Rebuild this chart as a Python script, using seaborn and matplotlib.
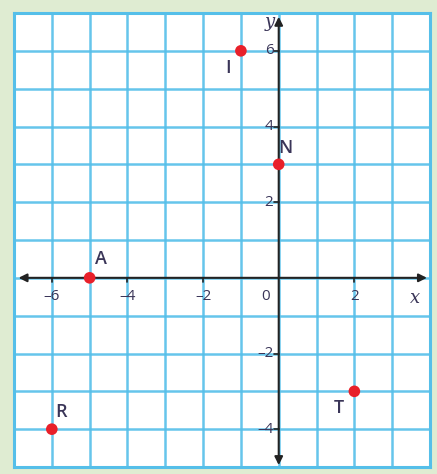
import numpy as np
import pandas as pd
import seaborn as sns
import matplotlib.pyplot as plt

# points on the grid
names = ["I", "N", "A", "R", "T"]
xs = [-1, 0, -5, -6, 2]
ys = [6, 3, 0, -4, -3]
# label offsets (data units) relative to each point
label_dx = [-0.35, 0.18, 0.3, 0.25, -0.4]
label_dy = [-0.45, 0.42, 0.5, 0.45, -0.45]

x_ticks = [-6, -4, -2, 2]
y_ticks = [6, 4, 2, -2, -4]
x_range = (-7, 4)
y_range = (-5, 7)

df = pd.DataFrame({"x": xs, "y": ys, "name": names})

sns.set_style("white")
plt.rcParams["font.family"] = ["Open Sans", "DejaVu Sans"]

bg = "#dfecd2"
grid_c = "#55bfe9"
text_c = "#3a3558"

fig = plt.figure(figsize=(4.37, 4.74), dpi=100, facecolor=bg)
ax = fig.add_axes([14 / 437, 7 / 474, 416 / 437, 454 / 474])
ax.set_facecolor("white")

ax.set_xlim(*x_range)
ax.set_ylim(*y_range)
ax.set_xticks(np.arange(x_range[0], x_range[1] + 1))
ax.set_yticks(np.arange(y_range[0], y_range[1] + 1))
ax.tick_params(length=0, labelbottom=False, labelleft=False)
ax.grid(True, color=grid_c, lw=1.8, alpha=0.9)
for s in ax.spines.values():
    s.set_color(grid_c)
    s.set_linewidth(2.2)

# axes with arrows
arrow = dict(arrowstyle="<|-|>", color="#222222", lw=1.5, mutation_scale=12, shrinkA=0, shrinkB=0)
ax.annotate("", xy=(x_range[1] - 0.08, 0), xytext=(x_range[0] + 0.12, 0), arrowprops=arrow)
ax.annotate("", xy=(0, y_range[1] - 0.1), xytext=(0, y_range[0] + 0.05), arrowprops=arrow)

# tick marks and numbers
for t in x_ticks:
    ax.plot([t, t], [0, -0.12], color="#222222", lw=1.2)
    ax.text(t, -0.3, f"{t}".replace("-", "\u2013"), ha="center", va="top",
            fontsize=11, color=text_c)
for t in y_ticks:
    ax.plot([0, -0.12], [t, t], color="#222222", lw=1.2)
    ax.text(-0.14, t, f"{t}".replace("-", "\u2013"), ha="right", va="center",
            fontsize=11, color=text_c)
ax.text(-0.35, -0.3, "0", ha="center", va="top", fontsize=11, color=text_c)
ax.text(3.6, -0.3, "x", ha="center", va="top", fontsize=13, style="italic",
        family="DejaVu Serif", color=text_c)
ax.text(-0.25, 6.75, "y", ha="center", va="center", fontsize=13, style="italic",
        family="DejaVu Serif", color=text_c)

sns.scatterplot(data=df, x="x", y="y", ax=ax, color="#e8202a", s=70,
                edgecolor="none", zorder=5, legend=False)
for n, x, y, dx, dy in zip(names, xs, ys, label_dx, label_dy):
    ax.text(x + dx, y + dy, n, ha="center", va="center", fontsize=13,
            fontweight="semibold", color=text_c)

ax.set_xlabel("")
ax.set_ylabel("")
fig.savefig("out.png", dpi=100, facecolor=bg)
